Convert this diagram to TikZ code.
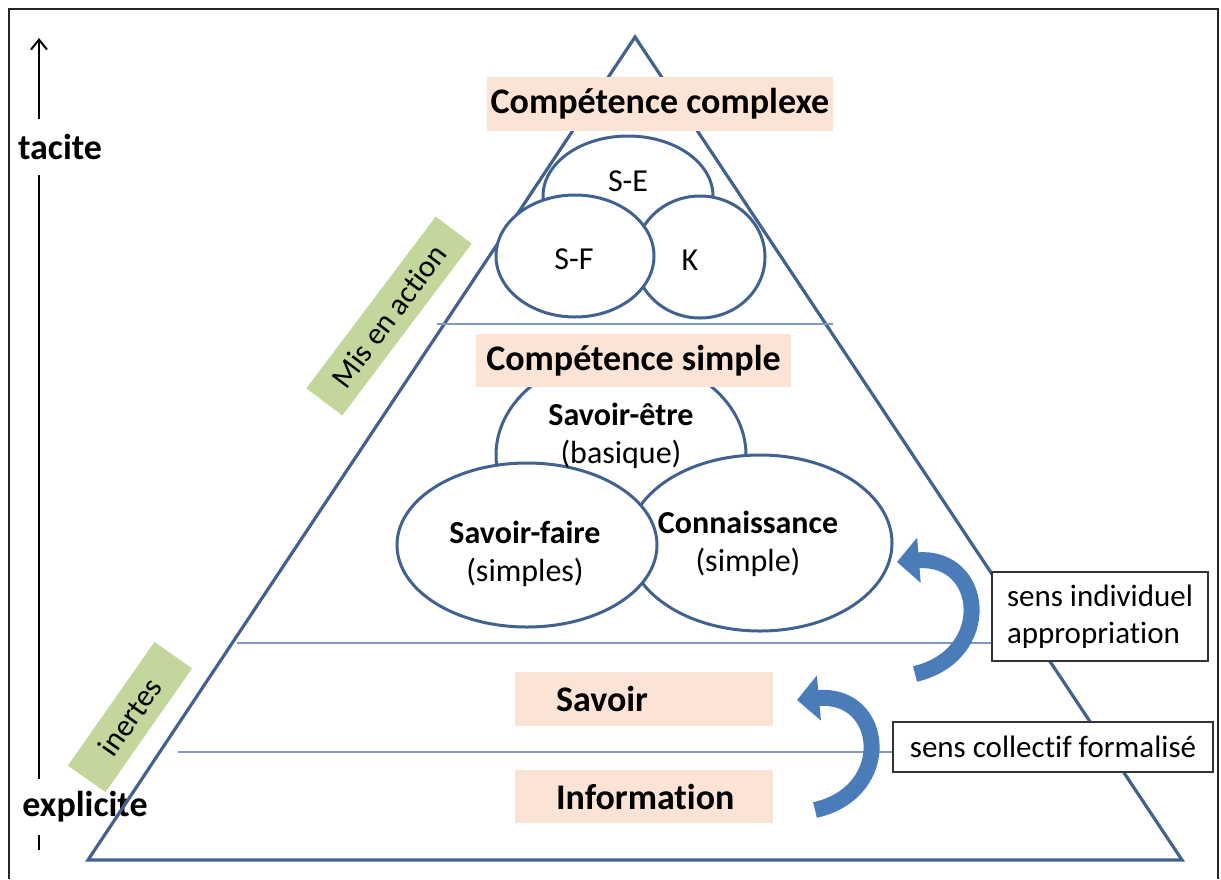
\documentclass[tikz,border=0pt]{standalone}
\usepackage{fontspec}
\setmainfont{Carlito}[Ligatures=NoCommon]
\usepackage{tikz}
\usetikzlibrary{arrows.meta,shapes.geometric}
\definecolor{edgeblue}{HTML}{41628E}
\definecolor{thinblue}{HTML}{7D9AC0}
\definecolor{labelbeige}{HTML}{FBE4D6}
\definecolor{labelgreen}{HTML}{C3D69B}
\definecolor{arrowblue}{HTML}{4A7CBA}

\begin{document}
\begin{tikzpicture}[x=0.5pt,y=-0.5pt,
		edge/.style={color=edgeblue,line width=1.6pt},
		layerline/.style={color=thinblue,line width=0.6pt},
		levelbox/.style={fill=labelbeige,inner sep=0pt,font=\fontsize{18}{21}\selectfont\bfseries},
		tagbox/.style={fill=labelgreen,inner sep=0pt,font=\fontsize{15.5}{18}\selectfont},
		bubble/.style={ellipse,draw=edgeblue,line width=1.5pt,fill=white,inner sep=0pt},
		bubbletext/.style={align=center,font=\fontsize{16}{19}\selectfont},
		notebox/.style={draw=black!80,line width=0.8pt,fill=white,align=left,font=\fontsize{15.5}{18.5}\selectfont},
		scalelabel/.style={fill=white,inner sep=0pt,font=\fontsize{18}{21}\selectfont\bfseries},
		bendarrow/.style={color=arrowblue,line width=8pt,-{Triangle[width=22pt,length=11pt]}}]
		\useasboundingbox (0,0) rectangle (1221,879);
		% frame
		\draw [color=black!85,line width=1pt] (9,879) -- (9,9) -- (1218,9) -- (1218,879);
		% tacite / explicite scale
		\coordinate (scalebot) at (39,850);
		\coordinate (scaletop) at (39,38);
		\draw [line width=1pt,-{Straight Barb[length=5pt,width=8pt]}] (scalebot) -- (scaletop);
		\node [scalelabel,minimum height=28pt] (tacite) at (60,147) {tacite};
		\node [scalelabel,minimum height=28pt] (explicite) at (85,807) {explicite};
		% pyramid
		\coordinate (apex) at (635,37);
		\coordinate (bl) at (88,860);
		\coordinate (br) at (1182,860);
		\draw [edge] (apex) -- (bl) -- (br) -- cycle;
		% side boxes
		\node [notebox,minimum width=108pt,minimum height=44.5pt] (indiv) at (1100,616.5) {sens individuel\\appropriation};
		\node [notebox,minimum width=160pt,minimum height=25pt] (collectif) at (1053,747) {sens collectif formalisé};
		% layer lines
		\coordinate (layera) at (437,324);
		\coordinate (layerae) at (833,324);
		\coordinate (layerb) at (237,643);
		\coordinate (layerc) at (178,752);
		\draw [layerline] (layera) -- (layerae);
		\draw [layerline] (layerb) -- (layerb -| indiv.west);
		\draw [layerline] (layerc) -- (layerc -| collectif.west);
		% complex competence
		\node [bubble,minimum width=85pt,minimum height=60pt] (se) at (628,196) {};
		\node [bubble,minimum width=65pt,minimum height=61pt] (k) at (700,257) {};
		\node [bubble,minimum width=79pt,minimum height=61pt] (sf) at (575,256) {};
		\node [bubbletext] (setxt) at (628,181) {S-E};
		\node [bubbletext] (sftxt) at (574,259) {S-F};
		\node [bubbletext] (ktxt) at (690,260) {K};
		% simple competence
		\node [bubble,minimum width=125pt,minimum height=99pt] (setre) at (621,455) {};
		\node [bubble,minimum width=132pt,minimum height=88pt] (conn) at (760,543) {};
		\node [bubble,minimum width=130pt,minimum height=82pt] (sfaire) at (527,545) {};
		\node [bubbletext] (setretxt) at (621,436) {\textbf{Savoir-être}\\(basique)};
		\node [bubbletext] (sfairetxt) at (525,554) {\textbf{Savoir-faire}\\(simples)};
		\node [bubbletext] (conntxt) at (748,544) {\textbf{Connaissance}\\(simple)};
		% level labels
		\node [levelbox,minimum width=173pt,minimum height=27pt] (complexe) at (660,104) {Compétence complexe};
		\node [levelbox,minimum width=157.5pt,minimum height=26.5pt] (simple) at (633.5,360.5) {Compétence simple};
		\node [levelbox,text width=88pt,inner xsep=20.5pt,minimum height=27pt,align=left] (savoir) at (644,699) {Savoir};
		\node [levelbox,text width=88pt,inner xsep=20.5pt,minimum height=26.5pt,align=left] (information) at (644,796.5) {Information};
		% green tags
		\node [tagbox,rotate=53,minimum width=107.5pt,minimum height=22.5pt] (action) at (389,316) {Mis en action};
		\node [tagbox,rotate=55,minimum width=75.5pt,minimum height=23pt] (inertes) at (130,717) {inertes};
		% curved arrows
		\coordinate (indivtail) at (915,674);
		\coordinate (indivtip) at (897,562);
		\draw [bendarrow] (indivtail) .. controls (995,655) and (985,555) .. (indivtip);
		\coordinate (colltail) at (815,810);
		\coordinate (colltip) at (797,700);
		\draw [bendarrow] (colltail) .. controls (895,792) and (885,692) .. (colltip);
	\end{tikzpicture}
\end{document}
